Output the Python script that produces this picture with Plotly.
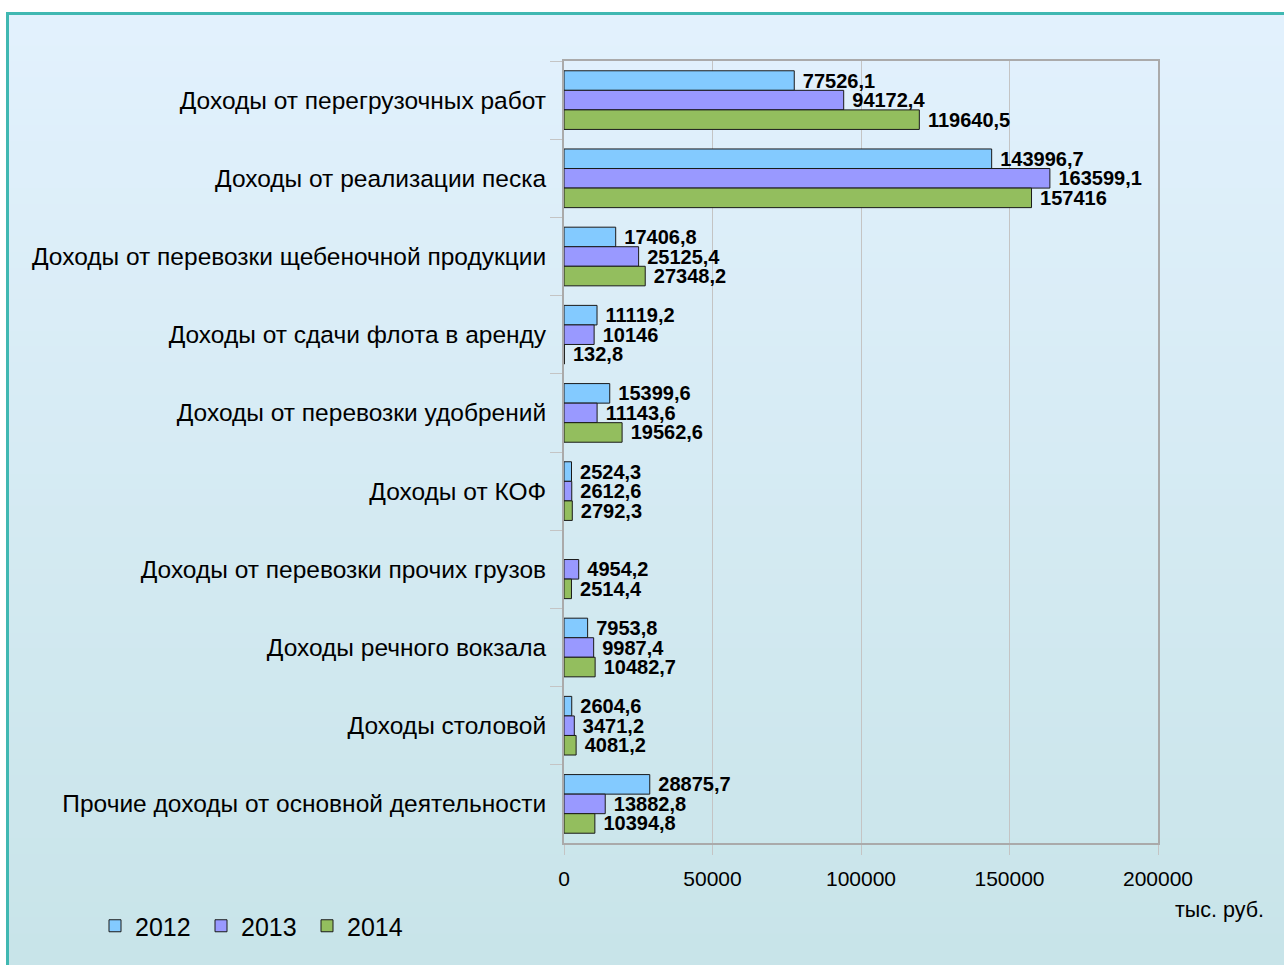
import plotly.graph_objects as go

categories = [
    "Доходы от перегрузочных работ",
    "Доходы от реализации песка",
    "Доходы от перевозки щебеночной продукции",
    "Доходы от сдачи флота в аренду",
    "Доходы от перевозки удобрений",
    "Доходы от КОФ",
    "Доходы от перевозки прочих грузов",
    "Доходы речного вокзала",
    "Доходы столовой",
    "Прочие доходы от основной деятельности",
]
years = ["2012", "2013", "2014"]
values_2012 = [77526.1, 143996.7, 17406.8, 11119.2, 15399.6, 2524.3, None, 7953.8, 2604.6, 28875.7]
values_2013 = [94172.4, 163599.1, 25125.4, 10146, 11143.6, 2612.6, 4954.2, 9987.4, 3471.2, 13882.8]
values_2014 = [119640.5, 157416, 27348.2, 132.8, 19562.6, 2792.3, 2514.4, 10482.7, 4081.2, 10394.8]
x_ticks = [0, 50000, 100000, 150000, 200000]
unit_label = "тыс. руб."

colors = ["#83CAFF", "#9999FF", "#93BE5E"]

W, H = 1284, 965
ML, MR, MT, MB = 564, 126, 61, 122
PW, PH = W - ML - MR, H - MT - MB


def px_x(px):
    return (px - ML) / PW


def px_y(py):
    return (H - MB - py) / PH


def fmt(v):
    if v is None:
        return ""
    if float(v).is_integer():
        return str(int(v))
    return ("%.1f" % v).replace(".", ",")


fig = go.Figure()
for name, vals, col in zip(years, [values_2012, values_2013, values_2014], colors):
    fig.add_trace(go.Bar(
        y=categories, x=vals, name=name, orientation="h",
        marker=dict(color=col, line=dict(color="#1a1a1a", width=1)),
        text=[fmt(v) for v in vals], texttemplate="\u00a0%{text}", textposition="outside",
        textfont=dict(family="Liberation Sans, Arial", size=20, color="black", weight="bold"),
        constraintext="none", cliponaxis=False, hoverinfo="skip",
    ))

# gradient background via horizontal bands
shapes = []
top_c = (226, 241, 253)
bot_c = (200, 228, 233)
y_top, y_bot = 14, H
n = 60
for i in range(n):
    t = i / (n - 1)
    c = tuple(int(round(a + (b - a) * t)) for a, b in zip(top_c, bot_c))
    y0 = y_top + (y_bot - y_top) * i / n
    y1 = y_top + (y_bot - y_top) * (i + 1) / n + 1
    shapes.append(dict(type="rect", xref="paper", yref="paper", layer="below",
                       x0=px_x(8), x1=px_x(W + 5), y0=px_y(y0), y1=px_y(y1),
                       fillcolor="rgb(%d,%d,%d)" % c, line=dict(width=0)))
# teal frame
shapes.append(dict(type="rect", xref="paper", yref="paper", layer="below",
                   x0=px_x(7.5), x1=px_x(W + 10), y0=px_y(13.5), y1=px_y(H + 10),
                   fillcolor="rgba(0,0,0,0)", line=dict(color="#40B8B2", width=3)))

fig.update_layout(
    width=W, height=H,
    margin=dict(l=ML, r=MR, t=MT, b=MB, pad=0),
    paper_bgcolor="white", plot_bgcolor="rgba(0,0,0,0)",
    barmode="group", bargap=0.25, bargroupgap=0,
    shapes=shapes,
    font=dict(family="Liberation Sans, Arial", color="black"),
    showlegend=True,
    legend=dict(orientation="h", x=px_x(95), y=px_y(926), xanchor="left", yanchor="middle",
                font=dict(size=25), bgcolor="rgba(0,0,0,0)", itemwidth=30, tracegroupgap=0,
                entrywidth=61, entrywidthmode="pixels"),
    annotations=[dict(text=unit_label, xref="paper", yref="paper", x=px_x(1266), y=px_y(910),
                      xanchor="right", yanchor="middle", showarrow=False,
                      font=dict(size=21.5, family="Liberation Sans, Arial"))],
)
fig.update_xaxes(range=[0, 200000], tickvals=x_ticks, ticktext=[str(v) for v in x_ticks],
                 showgrid=True, gridcolor="#C4C4C4", gridwidth=1,
                 showline=True, linecolor="#AAAAAA", linewidth=2, mirror=True,
                 ticks="outside", ticklen=10, tickcolor="#C4C4C4",
                 tickfont=dict(size=21), zeroline=False, ticklabelstandoff=6)
fig.update_yaxes(autorange="reversed", showline=True, linecolor="#AAAAAA", linewidth=2, mirror=True,
                 ticks="outside", tickson="boundaries", ticklen=12, tickcolor="#C4C4C4",
                 tickfont=dict(size=24.5), showgrid=False, ticklabelstandoff=11)

fig.write_html("out.html", config={"displayModeBar": False},
               post_script="document.body.style.margin='0';document.body.style.overflow='hidden';")
